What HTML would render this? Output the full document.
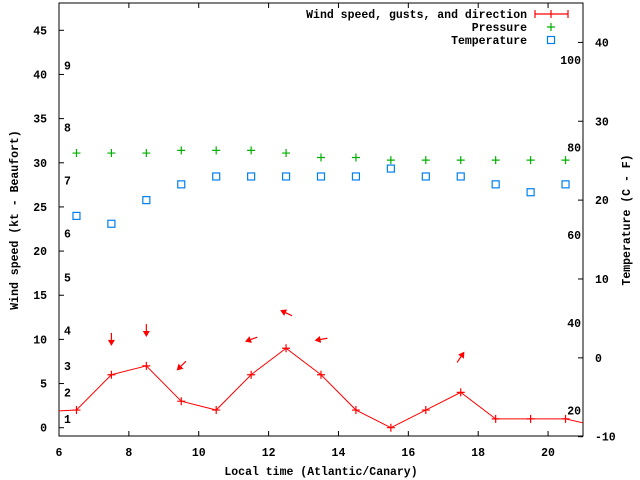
<!DOCTYPE html>
<html><head><meta charset="utf-8"><style>
html,body{margin:0;padding:0;background:#fff}
svg{display:block}
text{font-family:"Liberation Mono",monospace;font-weight:bold;font-size:11.5px;fill:#000}
</style></head><body>
<svg id="chart" width="640" height="480" viewBox="0 0 640 480" xmlns="http://www.w3.org/2000/svg">
<defs><clipPath id="clip"><rect x="59" y="3" width="524" height="433"/></clipPath></defs>
<g id="grid"></g>
<g id="marks" clip-path="url(#clip)"></g>
<g id="labels"></g>
</svg>
<script>
const hours = [6.5,7.5,8.5,9.5,10.5,11.5,12.5,13.5,14.5,15.5,16.5,17.5,18.5,19.5,20.5];
const windSpeed = [2,6,7,3,2,6,9,6,2,0,2,4,1,1,1];
const windEdgeHours = [5.5,21.5];
const windEdgeValues = [1.8,0.1];
const pressure = [31.1,31.1,31.1,31.4,31.4,31.4,31.1,30.6,30.6,30.3,30.3,30.3,30.3,30.3,30.3];
const temperature = [18,17,20,22,23,23,23,23,23,24,23,23,22,21,22];
const gustHours = [7.5,8.5,9.5,11.5,12.5,13.5,17.5];
const gustSpeed = [10,11,7,10,13,10,8];
const gustDir = [0,0,45,70,115,80,214];
const xTicks = [6,8,10,12,14,16,18,20];
const yTicks = [0,5,10,15,20,25,30,35,40,45];
const y2Ticks = [-10,0,10,20,30,40];
const fTicks = [20,40,60,80,100];
const beaufortLevels = [1,2,3,4,5,6,7,8,9];
const beaufortKnots = [1,4,7,11,17,22,28,34,41];

const NS="http://www.w3.org/2000/svg";
const L=59,R=583,T=3,B=436;
const X=h=>L+(h-6)*(R-L)/15;
const Y=v=>427.7-v*8.831;
const Y2=c=>436.7-(c+10)*7.886;
function mk(tag,attrs,parent,txt){const e=document.createElementNS(NS,tag);for(const k in attrs)e.setAttribute(k,attrs[k]);if(txt!==undefined)e.textContent=txt;parent.appendChild(e);return e;}
const grid=document.getElementById('grid'),marks=document.getElementById('marks'),labels=document.getElementById('labels');

let frame=mk('rect',{x:L,y:T,width:R-L,height:B-T,fill:'none',stroke:'#000','stroke-width':1},grid);



xTicks.forEach(h=>{
  const x=X(h);
  mk('line',{x1:x,y1:B,x2:x,y2:B-5,stroke:'#000'},grid);
  mk('line',{x1:x,y1:T,x2:x,y2:T+5,stroke:'#000'},grid);
  let t=mk('text',{x:x,y:B+20,'text-anchor':'middle'},labels,String(h));
  
  
});
yTicks.forEach(v=>{
  const y=Y(v);
  mk('line',{x1:L,y1:y,x2:L+5,y2:y,stroke:'#000'},grid);
  let t=mk('text',{x:47,y:y+4,'text-anchor':'end'},labels,String(v));
  
  
});
y2Ticks.forEach(c=>{
  const y=Y2(c);
  mk('line',{x1:R,y1:y,x2:R-5,y2:y,stroke:'#000'},grid);
  let t=mk('text',{x:595,y:y+4,'text-anchor':'start'},labels,String(c));
  
  
});
fTicks.forEach(f=>{
  const y=Y2((f-32)*5/9);
  let t=mk('text',{x:581,y:y+4,'text-anchor':'end'},labels,String(f));
  
  
});
beaufortLevels.forEach((b,i)=>{
  let t=mk('text',{x:64,y:Y(beaufortKnots[i])+4,'text-anchor':'start'},labels,String(b));
  
  
});

// wind line
const pts=[[windEdgeHours[0],windEdgeValues[0]]].concat(hours.map((h,i)=>[h,windSpeed[i]])).concat([[windEdgeHours[1],windEdgeValues[1]]]);
let wl=mk('polyline',{points:pts.map(p=>X(p[0])+','+Y(p[1])).join(' '),fill:'none',stroke:'#f00','stroke-width':1},marks);


hours.forEach((h,i)=>{
  const x=X(h),y=Y(windSpeed[i]);
  let g=mk('path',{d:`M${x-4},${y}H${x+4}M${x},${y-4}V${y+4}`,stroke:'#f00','stroke-width':1.2},marks);
  
  
});
// pressure
hours.forEach((h,i)=>{
  const x=X(h),y=Y(pressure[i]);
  let g=mk('path',{d:`M${x-4},${y}H${x+4}M${x},${y-4}V${y+4}`,stroke:'#00b000','stroke-width':1.2},marks);
  
  
});
// temperature
hours.forEach((h,i)=>{
  const x=X(h),y=Y2(temperature[i]);
  let g=mk('rect',{x:x-3.5,y:y-3.5,width:7,height:7,fill:'none',stroke:'#0080f0','stroke-width':1.2},marks);
  
  
});
// gust arrows
gustHours.forEach((h,i)=>{
  const cx=X(h),cy=Y(gustSpeed[i]);
  const a=(gustDir[i]+180)*Math.PI/180;
  const dx=Math.sin(a),dy=-Math.cos(a),len=13;
  const hx=cx+dx*len/2,hy=cy+dy*len/2,tx=cx-dx*len/2,ty=cy-dy*len/2;
  const px=-dy,py=dx;
  const bx=hx-dx*6,by=hy-dy*6;
  let g=mk('g',{},marks);
  
  
  mk('line',{x1:tx,y1:ty,x2:bx,y2:by,stroke:'#f00','stroke-width':1.2},g);
  mk('polygon',{points:`${hx},${hy} ${bx+px*3.5},${by+py*3.5} ${bx-px*3.5},${by-py*3.5}`,fill:'#f00'},g);
});

// legend
const leg=[['Wind speed, gusts, and direction',14],['Pressure',27],['Temperature',40]];
leg.forEach((l,i)=>{
  let t=mk('text',{x:527,y:l[1]+4,'text-anchor':'end'},labels,l[0]);
  
  
});
mk('path',{d:'M535,14H568M535,10V18M551,10V18M568,10V18',stroke:'#f00','stroke-width':1.2},labels);
mk('path',{d:'M547,27H555M551,23V31',stroke:'#00b000','stroke-width':1.2},labels);
mk('rect',{x:547.5,y:36.5,width:7,height:7,fill:'none',stroke:'#0080f0','stroke-width':1.2},labels);

let xt=mk('text',{x:321,y:475,'text-anchor':'middle'},labels,'Local time (Atlantic/Canary)');


let yt=mk('text',{x:0,y:0,'text-anchor':'middle',transform:'translate(18,220) rotate(-90)'},labels,'Wind speed (kt - Beaufort)');


let y2t=mk('text',{x:0,y:0,'text-anchor':'middle',transform:'translate(630,220) rotate(-90)'},labels,'Temperature (C - F)');


</script>
</body></html>
